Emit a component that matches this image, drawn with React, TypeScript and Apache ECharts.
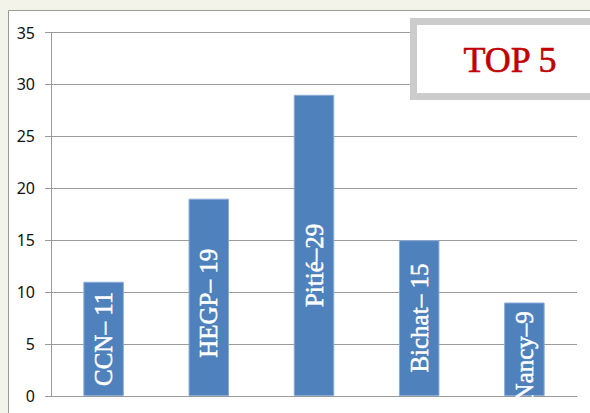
import React, { useEffect, useRef } from "react";
import * as echarts from "echarts";

const categories = ["CCN", "HEGP", "Pitié", "Bichat", "Nancy"];
const barLabels = ["CCN– 11", "HEGP– 19", "Pitié–29", "Bichat– 15", "Nancy–9"];
const values = [11, 19, 29, 15, 9];
const labelOffsets = [0, -6, -20, 0, -7];
const yTicks = { min: 0, max: 35, interval: 5 };
const boxTitle = "TOP 5";

export default function App() {
  const ref = useRef<HTMLDivElement>(null);
  useEffect(() => {
    if (!ref.current) return;
    const chart = echarts.init(ref.current, null, { renderer: "svg" });
    chart.setOption({
      animation: false,
      backgroundColor: "#F4F3EA",
      graphic: [
        {
          type: "rect",
          z: -10,
          silent: true,
          shape: { x: 8.5, y: 10.5, width: 600, height: 420 },
          style: { fill: "#ffffff", stroke: "#9a9a9a", lineWidth: 1 },
        },
        {
          type: "rect",
          z: 100,
          shape: { x: 413.5, y: 21.5, width: 190, height: 75 },
          style: { fill: "#ffffff", stroke: "#CCCCCC", lineWidth: 7 },
        },
        {
          type: "text",
          z: 101,
          x: 510,
          y: 60,
          style: {
            text: boxTitle,
            fill: "#C00000",
            stroke: "#C00000",
            lineWidth: 0.6,
            font: '36px "Liberation Serif", "DejaVu Serif", serif',
            align: "center",
            verticalAlign: "middle",
          },
        },
      ],
      grid: { left: 51, right: 13, top: 32.5, bottom: 17, containLabel: false },
      xAxis: {
        type: "category",
        data: categories,
        axisLine: { show: true, lineStyle: { color: "#9a9a9a", width: 1 } },
        axisTick: { show: false },
        axisLabel: { show: false },
      },
      yAxis: {
        type: "value",
        min: yTicks.min,
        max: yTicks.max,
        interval: yTicks.interval,
        axisLine: { show: true, lineStyle: { color: "#9a9a9a", width: 1 } },
        axisTick: { show: true, length: 6, lineStyle: { color: "#9a9a9a" } },
        axisLabel: {
          margin: 16,
          color: "#111111",
          fontSize: 16,
          fontFamily: '"Noto Sans", "DejaVu Sans", sans-serif',
        },
        splitLine: { show: true, lineStyle: { color: "#9a9a9a", width: 1 } },
      },
      series: [
        {
          type: "bar",
          barWidth: "38.5%",
          data: values.map((v, i) => ({
            value: v,
            label: { offset: [labelOffsets[i], 0] },
          })),
          itemStyle: { color: "#4F81BD", borderColor: "#8AABD6", borderWidth: 1 },
          label: {
            show: true,
            position: "inside",
            rotate: 90,
            color: "#ffffff",
            textBorderColor: "#ffffff",
            textBorderWidth: 0.5,
            fontSize: 25,
            fontFamily: '"Liberation Serif", "DejaVu Serif", serif',
            formatter: (p: any) => barLabels[p.dataIndex],
          },
        },
      ],
    });
    return () => chart.dispose();
  }, []);
  return <div ref={ref} style={{ width: 590, height: 413, position: "absolute", left: 0, top: 0 }} />;
}
